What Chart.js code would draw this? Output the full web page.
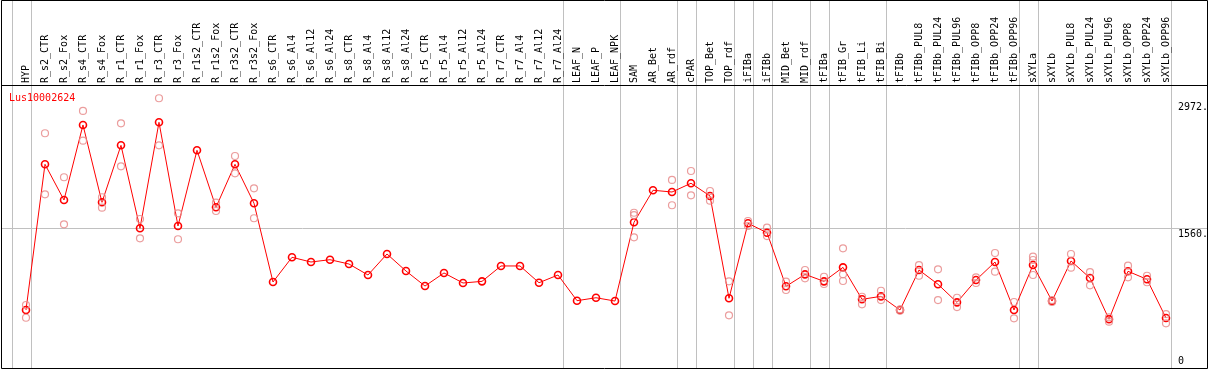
<!DOCTYPE html>
<html>
<head>
<meta charset="utf-8">
<script src="https://cdn.jsdelivr.net/npm/chart.js@4"></script>
<style>
  html, body { margin: 0; padding: 0; background: #fff; }
  canvas { display: block; }
</style>
</head>
<body>
<canvas id="chart" width="1209" height="370"></canvas>
<script>
const geneName = "Lus10002624";

const categories = [
  "HYP", "R_s2_CTR", "R_s2_Fox", "R_s4_CTR", "R_s4_Fox", "R_r1_CTR", "R_r1_Fox", "R_r3_CTR", "R_r3_Fox",
  "R_r1s2_CTR", "R_r1s2_Fox", "R_r3s2_CTR", "R_r3s2_Fox", "R_s6_CTR", "R_s6_Al4", "R_s6_Al12", "R_s6_Al24",
  "R_s8_CTR", "R_s8_Al4", "R_s8_Al12", "R_s8_Al24", "R_r5_CTR", "R_r5_Al4", "R_r5_Al12", "R_r5_Al24",
  "R_r7_CTR", "R_r7_Al4", "R_r7_Al12", "R_r7_Al24", "LEAF_N", "LEAF_P", "LEAF_NPK", "SAM", "AR_Bet", "AR_rdf",
  "cPAR", "TOP_Bet", "TOP_rdf", "iFIBa", "iFIBb", "MID_Bet", "MID_rdf", "tFIBa", "tFIB_Gr", "tFIB_Li", "tFIB_Bi",
  "tFIBb", "tFIBb_PUL8", "tFIBb_PUL24", "tFIBb_PUL96", "tFIBb_OPP8", "tFIBb_OPP24", "tFIBb_OPP96",
  "sXYLa", "sXYLb", "sXYLb_PUL8", "sXYLb_PUL24", "sXYLb_PUL96", "sXYLb_OPP8", "sXYLb_OPP24", "sXYLb_OPP96"
];

// mean expression per sample
const means = [
  673, 2255, 1867, 2682, 1842, 2461, 1560, 2711, 1585,
  2407, 1788, 2255, 1832, 977, 1245, 1194, 1219,
  1172, 1053, 1281, 1096, 933, 1075, 966, 984,
  1151, 1151, 969, 1053, 774, 806, 770, 1625, 1973, 1954,
  2049, 1911, 800, 1614, 1512, 930, 1060, 984, 1136, 789, 821,
  673, 1107, 952, 756, 998, 1194, 673,
  1161, 770, 1205, 1020, 572, 1093, 1006, 586
];

// individual replicates per sample
const replicates = [
  [727, 589], [2592, 1929], [2114, 1603], [2834, 2511], [1897, 1784], [2700, 2233], [1661, 1451], [2972, 2461], [1723, 1441],
  [], [1838, 1748], [2345, 2157], [1994, 1669], [], [], [], [],
  [], [], [], [], [], [], [], [],
  [], [], [], [], [], [], [], [1729, 1704, 1462], [], [2085, 1810],
  [2182, 1918], [1965, 1860], [984, 615], [1639, 1585], [1567, 1476], [980, 890], [1107, 1017], [1034, 955], [1343, 1060, 988], [817, 735], [882, 781],
  [680, 665], [1161, 1045], [1115, 781], [806, 705], [1028, 966], [1292, 1089], [760, 583],
  [1252, 1216, 1053], [781, 760], [1281, 1132], [1085, 941], [593, 546], [1154, 1028], [1045, 974], [629, 528]
];

// sample groups end after these indices (grey separators)
const groupEnds = [-1, 0, 28, 31, 34, 35, 37, 38, 39, 41, 42, 45, 52, 53, 60];

const yLabelValues = [2972, 1560, 0];
const yLabels = ["2972.", "1560.", "0"];
const midLine = 1560;

const FONT = "10px 'DejaVu Sans Mono', monospace";

const repPoints = [];
replicates.forEach((reps, i) => reps.forEach(v => repPoints.push({ x: i, y: v })));

const decor = {
  id: "decor",
  beforeDatasetsDraw(chart) {
    const { ctx, chartArea, scales: { x, y } } = chart;
    const W = chart.width;
    ctx.save();
    ctx.strokeStyle = "#c0c0c0";
    ctx.lineWidth = 1;
    // vertical separators
    groupEnds.forEach(g => {
      const px = Math.round(x.getPixelForValue(g + 0.24)) + 0.5;
      ctx.beginPath();
      ctx.moveTo(px, 0);
      ctx.lineTo(px, chartArea.bottom + 1);
      ctx.stroke();
    });
    // mid grid line
    const py = Math.round(y.getPixelForValue(midLine)) + 0.5;
    ctx.beginPath();
    ctx.moveTo(1, py);
    ctx.lineTo(W - 2, py);
    ctx.stroke();

    // frame
    ctx.strokeStyle = "#000";
    ctx.beginPath();
    ctx.moveTo(1.5, 0.5);
    ctx.lineTo(W - 1.5, 0.5);
    ctx.lineTo(W - 1.5, chartArea.bottom + 1.5);
    ctx.lineTo(1.5, chartArea.bottom + 1.5);
    ctx.closePath();
    ctx.moveTo(1, chartArea.top - 0.5);
    ctx.lineTo(W - 1, chartArea.top - 0.5);
    ctx.stroke();

    // category labels, rotated
    ctx.fillStyle = "#000";
    ctx.font = FONT;
    ctx.textAlign = "left";
    ctx.textBaseline = "middle";
    categories.forEach((c, i) => {
      ctx.save();
      ctx.translate(x.getPixelForValue(i) + 0.5, chartArea.top - 3);
      ctx.rotate(-Math.PI / 2);
      ctx.fillText(c, 0, 0);
      ctx.restore();
    });

    // right-side value labels
    ctx.textBaseline = "top";
    yLabels.forEach((t, i) => {
      let ty = y.getPixelForValue(yLabelValues[i]) + 1;
      ty = Math.min(Math.max(ty, chartArea.top + 16), chartArea.bottom - 11);
      ctx.fillText(t, chartArea.right - 28, ty);
    });

    // gene name
    ctx.fillStyle = "#ff0000";
    ctx.textBaseline = "middle";
    ctx.fillText(geneName, 9, chartArea.top + 12);
    ctx.restore();
  }
};

new Chart(document.getElementById("chart"), {
  type: "scatter",
  data: {
    datasets: [
      {
        data: repPoints,
        showLine: false,
        pointRadius: 3.5,
        pointBorderWidth: 1.2,
        pointBorderColor: "rgba(232,140,140,0.85)",
        pointBackgroundColor: "rgba(0,0,0,0)"
      },
      {
        data: means.map((v, i) => ({ x: i, y: v })),
        showLine: true,
        borderColor: "#ff0000",
        borderWidth: 1,
        pointRadius: 3.5,
        pointBorderWidth: 1.6,
        pointBorderColor: "#ff0000",
        pointBackgroundColor: "rgba(0,0,0,0)"
      }
    ]
  },
  options: {
    responsive: false,
    animation: false,
    devicePixelRatio: 1,
    layout: { autoPadding: false, padding: { top: 86, left: 2, right: 3, bottom: 3 } },
    plugins: { legend: { display: false }, tooltip: { enabled: false } },
    scales: {
      x: { type: "linear", min: -1.263, max: 62.105, display: false },
      y: { type: "linear", min: 54, max: 3105, display: false }
    }
  },
  plugins: [decor]
});
</script>
</body>
</html>
